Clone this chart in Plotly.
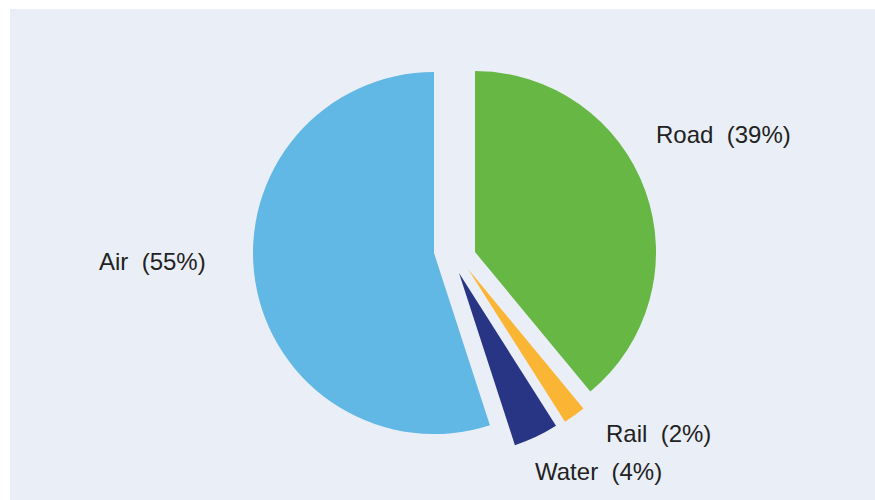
import plotly.graph_objects as go

# ---- data ----
labels = ["Road", "Rail", "Water", "Air"]
values = [39, 2, 4, 55]
colors = ["#67B744", "#FBB535", "#283584", "#62B8E4"]

# ---- layout helpers (pixel geometry of the exploded slices) ----
W, H = 875, 500
R = 181
apex = [(475, 252), (468, 269), (459, 273), (434, 253)]
label_xy = [(723, 134), (658, 433), (598, 471), (152, 261)]

fig = go.Figure()
for i, name in enumerate(labels):
    cx, cy = apex[i]
    cols = [colors[j] if j == i else "rgba(0,0,0,0)" for j in range(len(labels))]
    fig.add_trace(go.Pie(
        labels=labels,
        values=values,
        sort=False,
        direction="clockwise",
        rotation=0,
        marker=dict(colors=cols, line=dict(width=0)),
        textinfo="none",
        hoverinfo="skip",
        showlegend=False,
        domain=dict(x=[(cx - R) / W, (cx + R) / W],
                    y=[1 - (cy + R) / H, 1 - (cy - R) / H]),
    ))

annotations = []
for i, name in enumerate(labels):
    x, y = label_xy[i]
    annotations.append(dict(
        x=x / W, y=1 - y / H, xref="paper", yref="paper",
        text=f"{name}  ({values[i]}%)", showarrow=False,
        xanchor="center", yanchor="middle",
        font=dict(family="Liberation Sans, Arial, sans-serif", size=24, color="#222222"),
    ))

fig.update_layout(
    width=W, height=H,
    margin=dict(l=0, r=0, t=0, b=0),
    paper_bgcolor="white",
    shapes=[dict(type="rect", xref="paper", yref="paper",
                 x0=10 / W, x1=1, y0=0, y1=1 - 9 / H,
                 fillcolor="#EAEFF7", line=dict(width=0), layer="below")],
    annotations=annotations,
)

fig.write_html(
    "out.html",
    config={"displayModeBar": False, "staticPlot": True},
    post_script="document.body.style.margin='0';document.body.style.padding='0';document.body.style.overflow='hidden';",
)
